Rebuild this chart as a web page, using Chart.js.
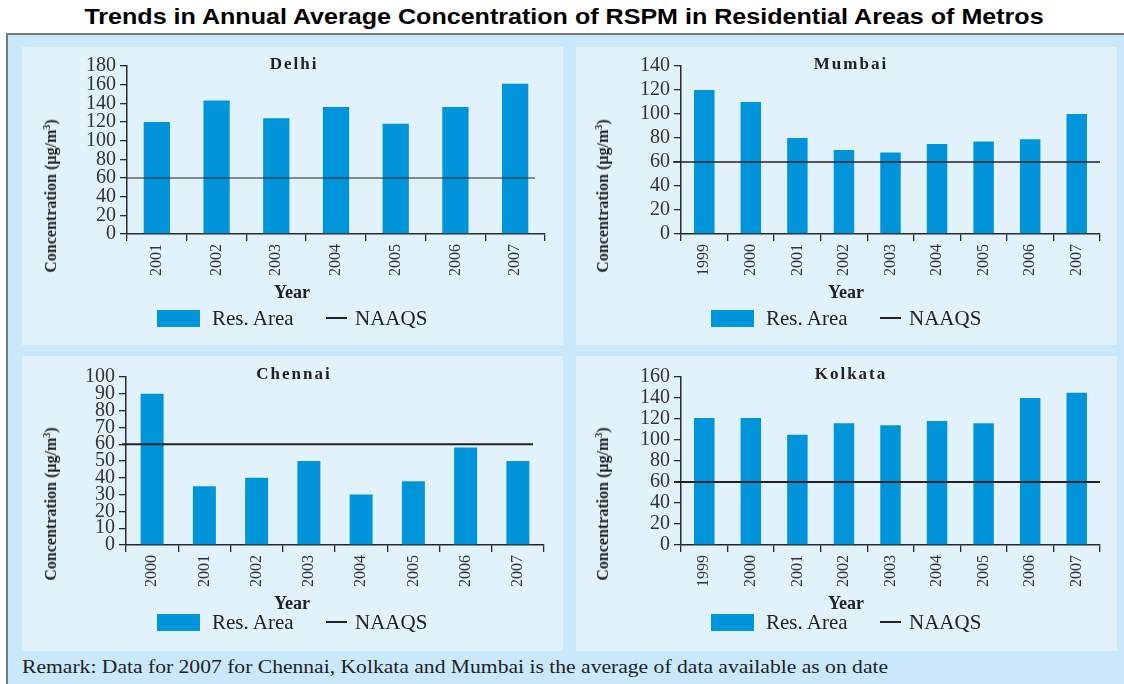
<!DOCTYPE html>
<html>
<head>
<meta charset="utf-8">
<title>Trends in Annual Average Concentration of RSPM</title>
<script src="https://cdn.jsdelivr.net/npm/chart.js@4.4.1/dist/chart.umd.min.js"></script>
<style>
  body { margin: 0; width: 1124px; height: 684px; overflow: hidden; position: relative; background: #fff;
         font-family: 'Liberation Serif', 'Times New Roman', serif; color: #222; }
  #title { position: absolute; left: 0; top: 4px; width: 1128px; text-align: center; white-space: nowrap;
           font: bold 22px 'Liberation Sans', Arial, sans-serif; color: #000; transform: scaleX(1.14); }
  #frame { position: absolute; left: 6px; top: 33px; width: 1140px; height: 670px; background: #c9e9fb;
           border-left: 2px solid #777; border-top: 2px solid #777; }
  .panel { position: absolute; width: 541px; background: #e1f2fb; }
  .panel canvas { position: absolute; left: 0; top: 0; }
  .abs { position: absolute; white-space: nowrap; line-height: 1; }
  .ptitle { font-weight: bold; font-size: 17px; letter-spacing: 2px; transform: translate(-50%, -50%); }
  .ytitle { font-weight: bold; font-size: 16px; transform: translate(-50%, -50%) rotate(-90deg); }
  .ytitle sup { font-size: 10px; vertical-align: 6px; line-height: 0; }
  .xtitle { font-weight: bold; font-size: 18px; transform: translate(-50%, -50%); }
  .lgtxt { font-size: 21px; transform: translateY(-50%); }
  #remark { position: absolute; left: 22px; top: 657px; font-size: 18px; line-height: 20px; white-space: nowrap;
            transform-origin: 0 50%; transform: scaleX(1.2); }
</style>
</head>
<body>
<div id="title">Trends in Annual Average Concentration of RSPM in Residential Areas of Metros</div>
<div id="frame"></div>
<div id="panels"></div>
<div id="remark">Remark: Data for 2007 for Chennai, Kolkata and Mumbai is the average of data available as on date</div>

<script>
// Data
const delhiYears = ['2001', '2002', '2003', '2004', '2005', '2006', '2007'];
const delhiRSPM = [120, 143, 124, 136, 118, 136, 161];

const mumbaiYears = ['1999', '2000', '2001', '2002', '2003', '2004', '2005', '2006', '2007'];
const mumbaiRSPM = [120, 110, 80, 70, 68, 75, 77, 79, 100];

const chennaiYears = ['2000', '2001', '2002', '2003', '2004', '2005', '2006', '2007'];
const chennaiRSPM = [90, 35, 40, 50, 30, 38, 58, 50];

const kolkataYears = ['1999', '2000', '2001', '2002', '2003', '2004', '2005', '2006', '2007'];
const kolkataRSPM = [121, 121, 105, 116, 114, 118, 116, 140, 145];

const NAAQS = 60; // standard, ug/m3

// y axis ranges: Delhi, Mumbai, Chennai, Kolkata
const yMax = [180, 140, 100, 160];
const yStep = [20, 20, 10, 20];

// Style
const BAR = '#0095da';
const AXIS = '#2a2a2a';
const SERIF = "'Liberation Serif', 'Times New Roman', serif";
Chart.defaults.font.family = SERIF;

// horizontal NAAQS line, drawn through the y scale
const naaqsLine = {
  id: 'naaqs',
  afterDatasetsDraw(chart, args, opts) {
    const ctx = chart.ctx;
    const y = chart.scales.y.getPixelForValue(NAAQS);
    const { left, right } = chart.chartArea;
    ctx.save();
    ctx.strokeStyle = opts.color;
    ctx.lineWidth = opts.width;
    ctx.beginPath();
    ctx.moveTo(left + opts.from, y);
    ctx.lineTo(right + opts.to, y);
    ctx.stroke();
    ctx.restore();
  }
};

const PANELS = [
  { id: 'delhi', name: 'Delhi', years: delhiYears, values: delhiRSPM, idx: 0,
    left: 22, top: 47, height: 298, axisW: 105, padTop: 19, padRight: 18, padBottom: 41,
    titleX: 272, titleY: 16, yTitleX: 29, yTitleY: 149, yearY: 245, legendY: 271, line: { width: 1.2, from: 0, to: -10 } },
  { id: 'mumbai', name: 'Mumbai', years: mumbaiYears, values: mumbaiRSPM, idx: 1,
    left: 576, top: 47, height: 298, axisW: 105, padTop: 19, padRight: 17, padBottom: 41,
    titleX: 275, titleY: 16, yTitleX: 27, yTitleY: 149, yearY: 245, legendY: 271, line: { width: 1.5, from: -8, to: 0 } },
  { id: 'chennai', name: 'Chennai', years: chennaiYears, values: chennaiRSPM, idx: 2,
    left: 22, top: 356, height: 295, axisW: 104, padTop: 21, padRight: 19, padBottom: 36,
    titleX: 272, titleY: 17, yTitleX: 29, yTitleY: 148, yearY: 247, legendY: 266, line: { width: 2, from: -4, to: -11 } },
  { id: 'kolkata', name: 'Kolkata', years: kolkataYears, values: kolkataRSPM, idx: 3,
    left: 576, top: 356, height: 295, axisW: 105, padTop: 21, padRight: 17, padBottom: 36,
    titleX: 275, titleY: 17, yTitleX: 27, yTitleY: 148, yearY: 247, legendY: 266, line: { width: 2, from: -7, to: 0 } }
];

function buildPanel(p) {
  const div = document.createElement('div');
  div.className = 'panel';
  div.style.left = p.left + 'px';
  div.style.top = p.top + 'px';
  div.style.height = p.height + 'px';
  div.innerHTML = `
    <canvas id="c-${p.id}" width="541" height="${p.height}"></canvas>
    <div class="abs ptitle" style="left:${p.titleX}px;top:${p.titleY}px">${p.name}</div>
    <div class="abs ytitle" style="left:${p.yTitleX}px;top:${p.yTitleY}px">Concentration (µg/m<sup>3</sup>)</div>
    <div class="abs xtitle" style="left:270px;top:${p.yearY}px">Year</div>
    <div class="abs" style="left:135px;top:${p.legendY - 8}px;width:43px;height:17px;background:${BAR}"></div>
    <div class="abs lgtxt" style="left:190px;top:${p.legendY}px">Res. Area</div>
    <div class="abs" style="left:304px;top:${p.legendY - 1}px;width:21px;height:2px;background:#222"></div>
    <div class="abs lgtxt" style="left:333px;top:${p.legendY}px">NAAQS</div>`;
  document.getElementById('panels').appendChild(div);

  new Chart(document.getElementById('c-' + p.id), {
    type: 'bar',
    data: {
      labels: p.years,
      datasets: [{
        label: 'Res. Area',
        data: p.values,
        backgroundColor: BAR,
        borderWidth: 0,
        barPercentage: 0.44,
        categoryPercentage: 1
      }]
    },
    options: {
      responsive: false,
      animation: false,
      layout: { padding: { left: 0, top: p.padTop, right: p.padRight, bottom: p.padBottom } },
      plugins: {
        legend: { display: false },
        tooltip: { enabled: false },
        naaqs: { color: '#222', width: p.line.width, from: p.line.from, to: p.line.to }
      },
      scales: {
        x: {
          grid: { drawOnChartArea: false, tickLength: 7, color: AXIS, lineWidth: 1.3 },
          border: { color: AXIS, width: 1.5 },
          ticks: { autoSkip: false, minRotation: 90, maxRotation: 90, padding: 3,
                   font: { size: 16 }, color: '#333' },
          afterFit: s => { s.height = 70; }
        },
        y: {
          min: 0,
          max: yMax[p.idx],
          grid: { drawOnChartArea: false, tickLength: 7, color: AXIS, lineWidth: 1.3 },
          border: { color: AXIS, width: 1.5 },
          ticks: { stepSize: yStep[p.idx], autoSkip: false, padding: 4, font: { size: 20 }, color: '#333' },
          afterFit: s => { s.width = p.axisW; }
        }
      }
    },
    plugins: [naaqsLine]
  });
}

PANELS.forEach(buildPanel);
</script>
</body>
</html>
